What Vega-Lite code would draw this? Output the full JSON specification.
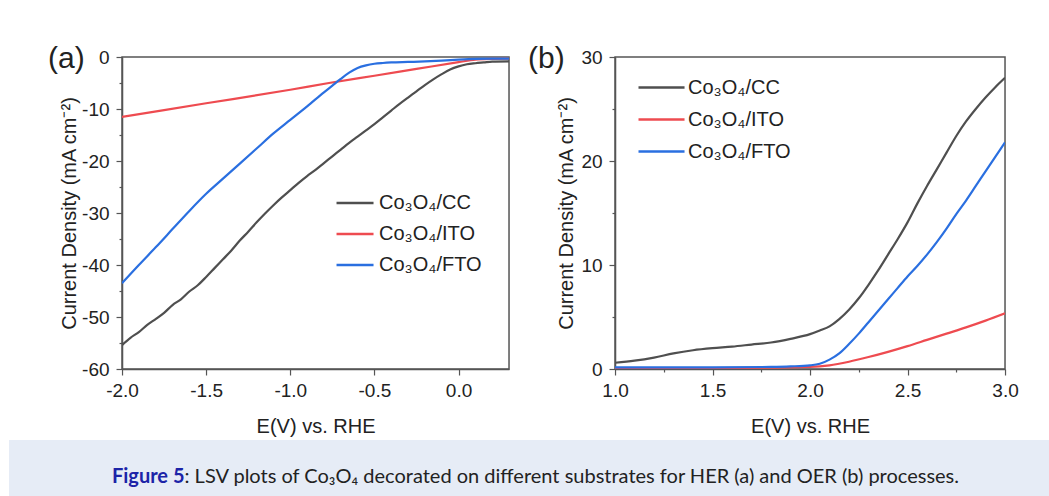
{
  "$schema": "https://vega.github.io/schema/vega-lite/v6.json",
  "autosize": {"type": "none"},
  "padding": {"left": 9, "top": 57, "right": 1040, "bottom": 439},
  "background": "white",
  "center": true,
  "spacing": 3,
  "datasets": {
    "her": [
      {"E": -2.0, "J": -55.4, "sample": "Co₃O₄/CC"},
      {"E": -1.95, "J": -54.0, "sample": "Co₃O₄/CC"},
      {"E": -1.9, "J": -52.9, "sample": "Co₃O₄/CC"},
      {"E": -1.85, "J": -51.5, "sample": "Co₃O₄/CC"},
      {"E": -1.8, "J": -50.4, "sample": "Co₃O₄/CC"},
      {"E": -1.75, "J": -49.2, "sample": "Co₃O₄/CC"},
      {"E": -1.7, "J": -47.7, "sample": "Co₃O₄/CC"},
      {"E": -1.65, "J": -46.6, "sample": "Co₃O₄/CC"},
      {"E": -1.6, "J": -45.1, "sample": "Co₃O₄/CC"},
      {"E": -1.55, "J": -43.9, "sample": "Co₃O₄/CC"},
      {"E": -1.5, "J": -42.3, "sample": "Co₃O₄/CC"},
      {"E": -1.45, "J": -40.6, "sample": "Co₃O₄/CC"},
      {"E": -1.4, "J": -38.9, "sample": "Co₃O₄/CC"},
      {"E": -1.35, "J": -37.2, "sample": "Co₃O₄/CC"},
      {"E": -1.3, "J": -35.3, "sample": "Co₃O₄/CC"},
      {"E": -1.25, "J": -33.6, "sample": "Co₃O₄/CC"},
      {"E": -1.2, "J": -31.8, "sample": "Co₃O₄/CC"},
      {"E": -1.15, "J": -30.1, "sample": "Co₃O₄/CC"},
      {"E": -1.1, "J": -28.5, "sample": "Co₃O₄/CC"},
      {"E": -1.05, "J": -27.0, "sample": "Co₃O₄/CC"},
      {"E": -1.0, "J": -25.6, "sample": "Co₃O₄/CC"},
      {"E": -0.95, "J": -24.2, "sample": "Co₃O₄/CC"},
      {"E": -0.9, "J": -22.9, "sample": "Co₃O₄/CC"},
      {"E": -0.85, "J": -21.7, "sample": "Co₃O₄/CC"},
      {"E": -0.8, "J": -20.4, "sample": "Co₃O₄/CC"},
      {"E": -0.75, "J": -19.1, "sample": "Co₃O₄/CC"},
      {"E": -0.7, "J": -17.8, "sample": "Co₃O₄/CC"},
      {"E": -0.65, "J": -16.5, "sample": "Co₃O₄/CC"},
      {"E": -0.6, "J": -15.3, "sample": "Co₃O₄/CC"},
      {"E": -0.55, "J": -14.1, "sample": "Co₃O₄/CC"},
      {"E": -0.5, "J": -12.9, "sample": "Co₃O₄/CC"},
      {"E": -0.45, "J": -11.6, "sample": "Co₃O₄/CC"},
      {"E": -0.4, "J": -10.3, "sample": "Co₃O₄/CC"},
      {"E": -0.35, "J": -9.0, "sample": "Co₃O₄/CC"},
      {"E": -0.3, "J": -7.8, "sample": "Co₃O₄/CC"},
      {"E": -0.25, "J": -6.6, "sample": "Co₃O₄/CC"},
      {"E": -0.2, "J": -5.4, "sample": "Co₃O₄/CC"},
      {"E": -0.15, "J": -4.3, "sample": "Co₃O₄/CC"},
      {"E": -0.1, "J": -3.3, "sample": "Co₃O₄/CC"},
      {"E": -0.05, "J": -2.4, "sample": "Co₃O₄/CC"},
      {"E": 0.0, "J": -1.8, "sample": "Co₃O₄/CC"},
      {"E": 0.05, "J": -1.4, "sample": "Co₃O₄/CC"},
      {"E": 0.1, "J": -1.2, "sample": "Co₃O₄/CC"},
      {"E": 0.15, "J": -1.05, "sample": "Co₃O₄/CC"},
      {"E": 0.2, "J": -0.9, "sample": "Co₃O₄/CC"},
      {"E": 0.3, "J": -0.85, "sample": "Co₃O₄/CC"},
      {"E": -2.0, "J": -11.5, "sample": "Co₃O₄/ITO"},
      {"E": -1.5, "J": -8.9, "sample": "Co₃O₄/ITO"},
      {"E": -1.0, "J": -6.3, "sample": "Co₃O₄/ITO"},
      {"E": -0.77, "J": -5.0, "sample": "Co₃O₄/ITO"},
      {"E": -0.5, "J": -3.6, "sample": "Co₃O₄/ITO"},
      {"E": -0.25, "J": -2.3, "sample": "Co₃O₄/ITO"},
      {"E": 0.0, "J": -1.0, "sample": "Co₃O₄/ITO"},
      {"E": 0.1, "J": -0.5, "sample": "Co₃O₄/ITO"},
      {"E": 0.2, "J": -0.35, "sample": "Co₃O₄/ITO"},
      {"E": 0.3, "J": -0.3, "sample": "Co₃O₄/ITO"},
      {"E": -2.0, "J": -43.5, "sample": "Co₃O₄/FTO"},
      {"E": -1.9, "J": -40.0, "sample": "Co₃O₄/FTO"},
      {"E": -1.8, "J": -36.6, "sample": "Co₃O₄/FTO"},
      {"E": -1.7, "J": -33.1, "sample": "Co₃O₄/FTO"},
      {"E": -1.6, "J": -29.6, "sample": "Co₃O₄/FTO"},
      {"E": -1.5, "J": -26.3, "sample": "Co₃O₄/FTO"},
      {"E": -1.4, "J": -23.4, "sample": "Co₃O₄/FTO"},
      {"E": -1.3, "J": -20.5, "sample": "Co₃O₄/FTO"},
      {"E": -1.2, "J": -17.6, "sample": "Co₃O₄/FTO"},
      {"E": -1.1, "J": -14.7, "sample": "Co₃O₄/FTO"},
      {"E": -1.0, "J": -12.1, "sample": "Co₃O₄/FTO"},
      {"E": -0.9, "J": -9.5, "sample": "Co₃O₄/FTO"},
      {"E": -0.8, "J": -6.8, "sample": "Co₃O₄/FTO"},
      {"E": -0.75, "J": -5.5, "sample": "Co₃O₄/FTO"},
      {"E": -0.7, "J": -4.2, "sample": "Co₃O₄/FTO"},
      {"E": -0.65, "J": -3.0, "sample": "Co₃O₄/FTO"},
      {"E": -0.6, "J": -2.1, "sample": "Co₃O₄/FTO"},
      {"E": -0.55, "J": -1.6, "sample": "Co₃O₄/FTO"},
      {"E": -0.5, "J": -1.3, "sample": "Co₃O₄/FTO"},
      {"E": -0.45, "J": -1.15, "sample": "Co₃O₄/FTO"},
      {"E": -0.4, "J": -1.05, "sample": "Co₃O₄/FTO"},
      {"E": -0.3, "J": -0.95, "sample": "Co₃O₄/FTO"},
      {"E": -0.2, "J": -0.85, "sample": "Co₃O₄/FTO"},
      {"E": -0.1, "J": -0.7, "sample": "Co₃O₄/FTO"},
      {"E": 0.0, "J": -0.5, "sample": "Co₃O₄/FTO"},
      {"E": 0.1, "J": -0.35, "sample": "Co₃O₄/FTO"},
      {"E": 0.2, "J": -0.3, "sample": "Co₃O₄/FTO"},
      {"E": 0.3, "J": -0.3, "sample": "Co₃O₄/FTO"}
    ],
    "oer": [
      {"E": 1.0, "J": 0.6, "sample": "Co₃O₄/CC"},
      {"E": 1.1, "J": 0.8, "sample": "Co₃O₄/CC"},
      {"E": 1.2, "J": 1.1, "sample": "Co₃O₄/CC"},
      {"E": 1.3, "J": 1.5, "sample": "Co₃O₄/CC"},
      {"E": 1.4, "J": 1.8, "sample": "Co₃O₄/CC"},
      {"E": 1.5, "J": 2.0, "sample": "Co₃O₄/CC"},
      {"E": 1.6, "J": 2.15, "sample": "Co₃O₄/CC"},
      {"E": 1.7, "J": 2.35, "sample": "Co₃O₄/CC"},
      {"E": 1.8, "J": 2.55, "sample": "Co₃O₄/CC"},
      {"E": 1.9, "J": 2.9, "sample": "Co₃O₄/CC"},
      {"E": 2.0, "J": 3.35, "sample": "Co₃O₄/CC"},
      {"E": 2.05, "J": 3.7, "sample": "Co₃O₄/CC"},
      {"E": 2.1, "J": 4.1, "sample": "Co₃O₄/CC"},
      {"E": 2.15, "J": 4.8, "sample": "Co₃O₄/CC"},
      {"E": 2.2, "J": 5.7, "sample": "Co₃O₄/CC"},
      {"E": 2.25, "J": 6.8, "sample": "Co₃O₄/CC"},
      {"E": 2.3, "J": 8.1, "sample": "Co₃O₄/CC"},
      {"E": 2.35, "J": 9.5, "sample": "Co₃O₄/CC"},
      {"E": 2.4, "J": 11.0, "sample": "Co₃O₄/CC"},
      {"E": 2.45, "J": 12.5, "sample": "Co₃O₄/CC"},
      {"E": 2.5, "J": 14.1, "sample": "Co₃O₄/CC"},
      {"E": 2.55, "J": 15.9, "sample": "Co₃O₄/CC"},
      {"E": 2.6, "J": 17.6, "sample": "Co₃O₄/CC"},
      {"E": 2.65, "J": 19.2, "sample": "Co₃O₄/CC"},
      {"E": 2.7, "J": 20.8, "sample": "Co₃O₄/CC"},
      {"E": 2.75, "J": 22.4, "sample": "Co₃O₄/CC"},
      {"E": 2.8, "J": 23.8, "sample": "Co₃O₄/CC"},
      {"E": 2.85, "J": 25.0, "sample": "Co₃O₄/CC"},
      {"E": 2.9, "J": 26.1, "sample": "Co₃O₄/CC"},
      {"E": 2.95, "J": 27.1, "sample": "Co₃O₄/CC"},
      {"E": 3.0, "J": 28.0, "sample": "Co₃O₄/CC"},
      {"E": 1.0, "J": 0.05, "sample": "Co₃O₄/ITO"},
      {"E": 1.5, "J": 0.08, "sample": "Co₃O₄/ITO"},
      {"E": 2.0, "J": 0.2, "sample": "Co₃O₄/ITO"},
      {"E": 2.1, "J": 0.35, "sample": "Co₃O₄/ITO"},
      {"E": 2.2, "J": 0.7, "sample": "Co₃O₄/ITO"},
      {"E": 2.3, "J": 1.15, "sample": "Co₃O₄/ITO"},
      {"E": 2.4, "J": 1.65, "sample": "Co₃O₄/ITO"},
      {"E": 2.5, "J": 2.2, "sample": "Co₃O₄/ITO"},
      {"E": 2.6, "J": 2.8, "sample": "Co₃O₄/ITO"},
      {"E": 2.7, "J": 3.4, "sample": "Co₃O₄/ITO"},
      {"E": 2.8, "J": 4.0, "sample": "Co₃O₄/ITO"},
      {"E": 2.9, "J": 4.65, "sample": "Co₃O₄/ITO"},
      {"E": 3.0, "J": 5.35, "sample": "Co₃O₄/ITO"},
      {"E": 1.0, "J": 0.15, "sample": "Co₃O₄/FTO"},
      {"E": 1.5, "J": 0.15, "sample": "Co₃O₄/FTO"},
      {"E": 1.8, "J": 0.2, "sample": "Co₃O₄/FTO"},
      {"E": 1.9, "J": 0.25, "sample": "Co₃O₄/FTO"},
      {"E": 2.0, "J": 0.35, "sample": "Co₃O₄/FTO"},
      {"E": 2.05, "J": 0.5, "sample": "Co₃O₄/FTO"},
      {"E": 2.1, "J": 0.9, "sample": "Co₃O₄/FTO"},
      {"E": 2.15, "J": 1.5, "sample": "Co₃O₄/FTO"},
      {"E": 2.2, "J": 2.4, "sample": "Co₃O₄/FTO"},
      {"E": 2.25, "J": 3.4, "sample": "Co₃O₄/FTO"},
      {"E": 2.3, "J": 4.5, "sample": "Co₃O₄/FTO"},
      {"E": 2.35, "J": 5.6, "sample": "Co₃O₄/FTO"},
      {"E": 2.4, "J": 6.7, "sample": "Co₃O₄/FTO"},
      {"E": 2.45, "J": 7.8, "sample": "Co₃O₄/FTO"},
      {"E": 2.5, "J": 8.9, "sample": "Co₃O₄/FTO"},
      {"E": 2.55, "J": 9.9, "sample": "Co₃O₄/FTO"},
      {"E": 2.6, "J": 11.0, "sample": "Co₃O₄/FTO"},
      {"E": 2.65, "J": 12.2, "sample": "Co₃O₄/FTO"},
      {"E": 2.7, "J": 13.5, "sample": "Co₃O₄/FTO"},
      {"E": 2.75, "J": 14.9, "sample": "Co₃O₄/FTO"},
      {"E": 2.8, "J": 16.2, "sample": "Co₃O₄/FTO"},
      {"E": 2.85, "J": 17.6, "sample": "Co₃O₄/FTO"},
      {"E": 2.9, "J": 19.0, "sample": "Co₃O₄/FTO"},
      {"E": 2.95, "J": 20.4, "sample": "Co₃O₄/FTO"},
      {"E": 3.0, "J": 21.8, "sample": "Co₃O₄/FTO"}
    ],
    "caption": [
      {"kind": "label", "part": "Figure 5"},
      {"kind": "text", "part": ": LSV plots of Co₃O₄ decorated on different substrates for HER (a) and OER (b) processes."}
    ]
  },
  "vconcat": [
    {
      "bounds": "flush",
      "spacing": 106,
      "resolve": {"scale": {"color": "independent"}, "legend": {"color": "independent"}},
      "hconcat": [
        {
          "width": 387,
          "height": 312,
          "title": {"text": "(a)", "anchor": "start", "frame": "group", "orient": "top", "dx": -74, "dy": 50, "offset": 0, "baseline": "alphabetic", "fontSize": 30, "font": "Liberation Sans", "fontWeight": "normal", "color": "#222222"},
          "data": {"name": "her"},
          "mark": {"type": "line", "strokeWidth": 2.2, "clip": true, "interpolate": "monotone"},
          "encoding": {
            "x": {"field": "E", "type": "quantitative", "scale": {"domain": [-2, 0.3], "nice": false, "zero": false},
              "axis": {"title": "E(V) vs. RHE", "values": [-2, -1.5, -1, -0.5, 0], "labelExpr": "(datum.value < 0 ? '-' : '') + format(abs(datum.value), '.1f')", "tickSize": 6, "labelPadding": 6, "titlePadding": 16}},
            "y": {"field": "J", "type": "quantitative", "scale": {"domain": [-60, 0], "nice": false, "zero": false},
              "axis": {"title": "Current Density (mA cm⁻²)", "values": [-60, -55, -50, -45, -40, -35, -30, -25, -20, -15, -10, -5, 0], "labelExpr": "datum.value % 10 == 0 ? '' + datum.value : ''", "tickSize": {"condition": {"test": "datum.value % 10 != 0", "value": 3}, "value": 6}, "labelPadding": 7, "titlePadding": 2}},
            "color": {"field": "sample", "type": "nominal", "sort": ["Co₃O₄/CC", "Co₃O₄/ITO", "Co₃O₄/FTO"],
              "scale": {"domain": ["Co₃O₄/CC", "Co₃O₄/ITO", "Co₃O₄/FTO"], "range": ["#4f4f4f", "#ee4b50", "#2a6fe0"]},
              "legend": {"title": null, "orient": "none", "legendX": 223, "legendY": 136, "padding": 0, "symbolType": "M-2.5,0H2.5", "symbolSize": 219, "symbolStrokeWidth": 2.5, "labelOffset": 14, "rowPadding": 11, "labelFontSize": 20, "labelFont": "Liberation Sans", "labelColor": "#222222"}}
          }
        },
        {
          "width": 390,
          "height": 312,
          "title": {"text": "(b)", "anchor": "start", "frame": "group", "orient": "top", "dx": -87, "dy": 50, "offset": 0, "baseline": "alphabetic", "fontSize": 30, "font": "Liberation Sans", "fontWeight": "normal", "color": "#222222"},
          "data": {"name": "oer"},
          "mark": {"type": "line", "strokeWidth": 2.2, "clip": true, "interpolate": "monotone"},
          "encoding": {
            "x": {"field": "E", "type": "quantitative", "scale": {"domain": [1, 3], "nice": false, "zero": false},
              "axis": {"title": "E(V) vs. RHE", "values": [1, 1.25, 1.5, 1.75, 2, 2.25, 2.5, 2.75, 3], "labelExpr": "(datum.value * 2) % 1 == 0 ? format(datum.value, '.1f') : ''", "tickSize": {"condition": {"test": "(datum.value * 2) % 1 != 0", "value": 3}, "value": 6}, "labelPadding": 6, "titlePadding": 16}},
            "y": {"field": "J", "type": "quantitative", "scale": {"domain": [0, 30], "nice": false, "zero": false},
              "axis": {"title": "Current Density (mA cm⁻²)", "values": [0, 5, 10, 15, 20, 25, 30], "labelExpr": "datum.value % 10 == 0 ? '' + datum.value : ''", "tickSize": {"condition": {"test": "datum.value % 10 != 0", "value": 3}, "value": 6}, "labelPadding": 7, "titlePadding": 4}},
            "color": {"field": "sample", "type": "nominal", "sort": ["Co₃O₄/CC", "Co₃O₄/ITO", "Co₃O₄/FTO"],
              "scale": {"domain": ["Co₃O₄/CC", "Co₃O₄/ITO", "Co₃O₄/FTO"], "range": ["#4f4f4f", "#ee4b50", "#2a6fe0"]},
              "legend": {"title": null, "orient": "none", "legendX": 36, "legendY": 20, "padding": 0, "symbolType": "M-2.5,0H2.5", "symbolSize": 339, "symbolStrokeWidth": 2.5, "labelOffset": 16, "rowPadding": 11, "labelFontSize": 20, "labelFont": "Liberation Sans", "labelColor": "#222222"}}
          }
        }
      ]
    },
    {
      "width": 1123,
      "height": 57,
      "view": {"fill": "#e6ecf6", "stroke": null},
      "data": {"name": "caption"},
      "layer": [
        {
          "transform": [{"filter": "datum.kind == 'label'"}],
          "mark": {"type": "text", "align": "right", "baseline": "alphabetic", "dx": -386, "dy": 14, "font": "Lato", "fontSize": 20, "fontWeight": "bold", "color": "#1c24a8"},
          "encoding": {"text": {"field": "part"}}
        },
        {
          "transform": [{"filter": "datum.kind == 'text'"}],
          "mark": {"type": "text", "align": "left", "baseline": "alphabetic", "dx": -386, "dy": 14, "font": "Lato", "fontSize": 20, "color": "#222222"},
          "encoding": {"text": {"field": "part"}}
        }
      ]
    }
  ],
  "config": {
    "font": "Liberation Sans",
    "view": {"stroke": "#555555", "strokeWidth": 1.5},
    "axis": {"grid": false, "domainColor": "#555555", "domainWidth": 1.5, "tickColor": "#555555", "tickWidth": 1.2, "labelFont": "Liberation Sans", "labelFontSize": 19, "labelColor": "#222222", "titleFont": "Liberation Sans", "titleFontSize": 20, "titleFontWeight": "normal", "titleColor": "#222222", "labelOverlap": false, "labelFlush": false, "labelBound": false}
  }
}
